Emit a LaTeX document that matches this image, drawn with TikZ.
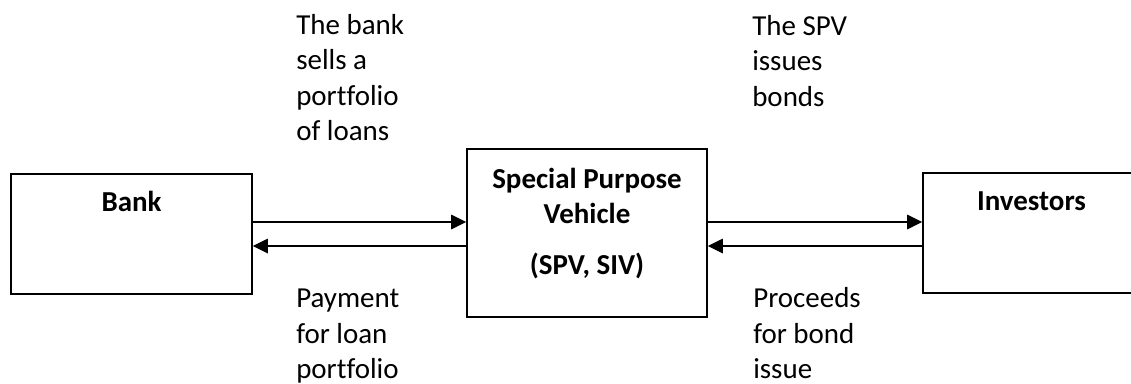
\documentclass[tikz,border=0pt]{standalone}
\usepackage{fontspec}
\setmainfont[Ligatures=CommonOff]{Carlito}
\usepackage{tikz}
\usetikzlibrary{arrows.meta, positioning, calc}

\tikzset{
  entity/.style={draw, line width=1.1pt, rectangle, minimum height=3cm, inner sep=0pt},
  boxtext/.style={font=\fontsize{20.6}{24.9}\selectfont\bfseries, align=center, inner sep=0pt, anchor=base},
  note/.style={font=\fontsize{20.6}{24.9}\selectfont, align=left, inner sep=0pt, anchor=base west},
  flow/.style={line width=1pt, -{Triangle[length=0.375cm, width=0.36cm]}}
}

\begin{document}
\begin{tikzpicture}
  \clip (0,0) rectangle (28.275,-9.575);

  % The three parties
  \node[entity, minimum width=6.025cm] (bank) at (3.2875, -5.85) {};
  \node[entity, minimum width=6cm, minimum height=4.2cm] (spv) at (14.675, -5.825) {};
  \node[entity, minimum width=5.425cm] (inv) at (25.7875, -5.825) {};

  % base = last line
  \node[boxtext] (banktxt) at ([yshift=-0.95cm]bank.north) {Bank};
  \node[boxtext] (spvtxt) at ([yshift=-3.15cm]spv.north) {Special Purpose\\Vehicle\\[0.4cm](SPV, SIV)};
  \node[boxtext] (invtxt) at ([yshift=-0.95cm]inv.north) {Investors};

  % Flows
  \draw[flow] ([yshift=0.3cm]bank.east) -- ([yshift=0.3cm]bank.east -| spv.west);
  \draw[flow] ([yshift=-0.3cm]bank.east -| spv.west) -- ([yshift=-0.3cm]bank.east);
  \draw[flow] ([yshift=0.3cm]bank.east -| spv.east) -- ([yshift=0.3cm]bank.east -| inv.west);
  \draw[flow] ([yshift=-0.3cm]bank.east -| inv.west) -- ([yshift=-0.3cm]bank.east -| spv.east);

  % Labels
  \node[note] (sells) at (7.4, -3.5) {The bank\\sells a\\portfolio\\of loans};
  \node[note] (issues) at (18.8, -2.65) {The SPV\\issues\\bonds};
  \node[note] (payment) at (7.4, -9.45) {Payment\\for loan\\portfolio};
  \node[note] (proceeds) at (18.825, -9.45) {Proceeds\\for bond\\issue};
\end{tikzpicture}
\end{document}
